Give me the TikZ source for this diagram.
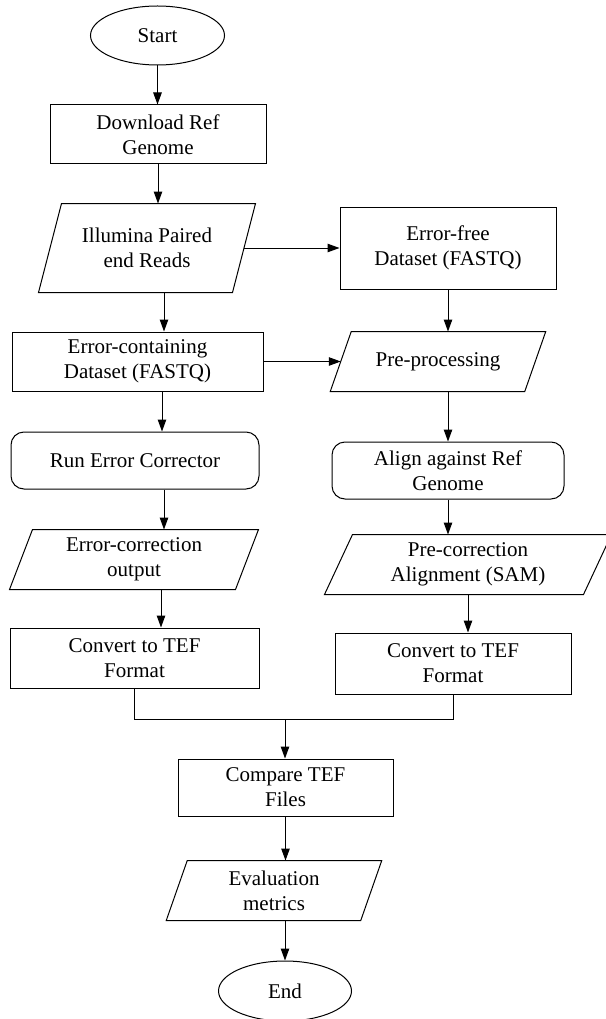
\documentclass[tikz,border=0pt]{standalone}
\usepackage{fontspec}
\setmainfont{Liberation Serif}
\usetikzlibrary{shapes.geometric,arrows.meta}
\newcommand\paraout[2]{\draw[lin] ([xshift=#2pt]#1.north west) -- ([xshift=#2pt]#1.north east) -- ([xshift=-#2pt]#1.south east) -- ([xshift=-#2pt]#1.south west) -- cycle;}
\begin{document}
\begin{tikzpicture}[x=1pt,y=-1pt,
  lin/.style={line width=1pt, black},
  arr/.style={lin, -{Triangle[length=12pt,width=8.5pt]}},
  base/.style={inner sep=0pt, align=center, font=\fontsize{21}{25}\selectfont, line width=1pt},
  boxn/.style={base, draw, rectangle},
  rbox/.style={base, draw, rectangle, rounded corners=13pt},
  term/.style={base, draw, ellipse},
  para/.style={base, rectangle}
]
\useasboundingbox (0,0) rectangle (605,1019);

\node[term, minimum width=134pt, minimum height=59pt] (start) at (157.5,35.5) {Start};
\node[boxn, minimum width=216pt, minimum height=59pt] (dl) at (158,134.5) {Download Ref\\Genome};
\node[para, minimum width=193pt, minimum height=88pt] (illu) at (147,248) {Illumina Paired\\end Reads};
\node[boxn, minimum width=216pt, minimum height=82pt] (errfree) at (448,248) {Error-free\\Dataset (FASTQ)};
\node[boxn, minimum width=251pt, minimum height=59pt] (errc) at (137.5,361.5) {Error-containing\\Dataset (FASTQ)};
\node[para, minimum width=193.5pt, minimum height=59pt] (prep) at (438,361.5) {Pre-processing};
\node[rbox, minimum width=248pt, minimum height=57pt] (run) at (135,460.5) {Run Error Corrector};
\node[rbox, minimum width=232pt, minimum height=57pt] (align) at (448,470.5) {Align against Ref\\Genome};
\node[para, minimum width=225pt, minimum height=59pt] (eco) at (134,559.5) {Error-correction\\output};
\node[para, minimum width=258pt, minimum height=59pt] (prec) at (468,564.5) {Pre-correction\\Alignment (SAM)};
\node[boxn, minimum width=249pt, minimum height=60pt] (convL) at (134.5,658) {Convert to TEF\\Format};
\node[boxn, minimum width=236pt, minimum height=61pt] (convR) at (453,663.5) {Convert to TEF\\Format};
\node[boxn, minimum width=215pt, minimum height=57pt] (cmp) at (285.5,787.5) {Compare TEF\\Files};
\node[para, minimum width=193.5pt, minimum height=59pt] (eval) at (274,890.5) {Evaluation\\metrics};
\node[term, minimum width=133pt, minimum height=60pt] (end) at (285,991) {End};

\paraout{illu}{11.5}
\paraout{prep}{10.5}
\paraout{eco}{11.5}
\paraout{prec}{14}
\paraout{eval}{10.5}

\coordinate (m) at (285,719);

\draw[arr] (start.south) -- (start.south |- dl.north);
\draw[arr] (dl.south) -- (dl.south |- illu.north);
\draw[arr] (illu.east) -- (errfree.west);
\draw[arr] ([xshift=17pt]illu.south) -- ([xshift=17pt]illu.south |- errc.north);
\draw[arr] (errfree.south) -- (errfree.south |- prep.north);
\draw[arr] (errc.east) -- (prep.west);
\draw[arr] ([xshift=24.5pt]errc.south) -- ([xshift=24.5pt]errc.south |- run.north);
\draw[arr] ([xshift=29pt]run.south) -- ([xshift=29pt]run.south |- eco.north);
\draw[arr] ([xshift=27pt]eco.south) -- ([xshift=27pt]eco.south |- convL.north);
\draw[arr] (align.north |- prep.south) -- (align.north);
\draw[arr] (align.south) -- (align.south |- prec.north);
\draw[arr] (prec.south) -- (prec.south |- convR.north);
\draw[lin] (convL.south) -- (convL.south |- m) -- (convR.south |- m) -- (convR.south);
\draw[arr] (m) -- (m |- cmp.north);
\draw[arr] (cmp.south) -- (cmp.south |- eval.north);
\draw[arr] (end.north |- eval.south) -- (end.north);
\end{tikzpicture}
\end{document}
